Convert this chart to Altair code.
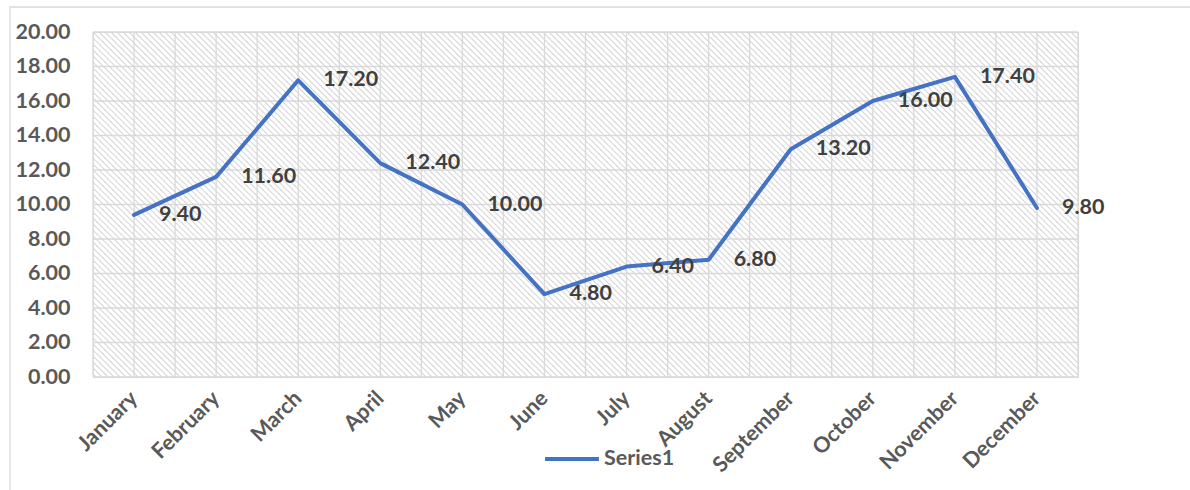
import json
import altair as alt
import pandas as pd

months = ["January", "February", "March", "April", "May", "June", "July",
          "August", "September", "October", "November", "December"]
values = [9.40, 11.60, 17.20, 12.40, 10.00, 4.80, 6.40, 6.80, 13.20, 16.00, 17.40, 9.80]
series_name = "Series1"
y_ticks = [0, 2, 4, 6, 8, 10, 12, 14, 16, 18, 20]

W, H = 985, 345
FONT = "Lato"
FS = 21.5
GRID = "#d9d9d9"

df = pd.DataFrame({
    "x": list(range(len(months))),
    "y": values,
    "series": series_name,
    "label": [f"{v:.2f}" for v in values],
})

xscale = alt.Scale(domain=[-0.5, 11.5], nice=False, zero=False)
yscale = alt.Scale(domain=[0, 20], nice=False)

X = alt.X("x:Q", scale=xscale, title=None,
          axis=alt.Axis(values=list(range(len(months))),
                        labelExpr=json.dumps(months) + "[datum.value]",
                        labelAngle=-45, labelAlign="right", labelBaseline="middle",
                        labelPadding=18, ticks=False, domain=False, grid=False,
                        labelFont=FONT, labelFontSize=FS, labelFontWeight="bold",
                        labelColor="#595959", labelOverlap=False))
Y = alt.Y("y:Q", scale=yscale, title=None,
          axis=alt.Axis(values=y_ticks, format=".2f", ticks=False, domain=False,
                        grid=False, labelPadding=23, labelFont=FONT, labelFontSize=FS,
                        labelFontWeight="bold", labelColor="#595959"))

px_per_x = W / 12.0
hatch = alt.Chart(alt.sequence(-60, 170, 1, as_="k")).transform_calculate(
    x=f"-0.5 + datum.k*6/{px_per_x}",
    x2=f"datum.x + {H}/{px_per_x}",
    y="20", y2="0",
).mark_rule(clip=True, color="#d6d6d6", strokeWidth=1.1).encode(
    x=X, x2="x2:Q", y=Y, y2="y2:Q")

vgrid = alt.Chart(alt.sequence(0, 25, 1, as_="k")).transform_calculate(
    x="-0.5 + datum.k*0.5", y="0", y2="20"
).mark_rule(color=GRID, strokeWidth=1.3).encode(x=X, y=Y, y2="y2:Q")

hgrid = alt.Chart(alt.sequence(0, 11, 1, as_="k")).transform_calculate(
    y="datum.k*2", x="-0.5", x2="11.5"
).mark_rule(color=GRID, strokeWidth=1.3).encode(x=X, x2="x2:Q", y=Y)

line = alt.Chart(df).mark_line(strokeWidth=4, strokeJoin="round", strokeCap="round").encode(
    x=X, y=Y,
    color=alt.Color("series:N", scale=alt.Scale(range=["#4472C4"]),
                    legend=alt.Legend(orient="none", legendX=450, legendY=398,
                                      title=None, symbolType="stroke",
                                      symbolStrokeWidth=4, symbolSize=2900,
                                      labelFont=FONT, labelFontSize=FS,
                                      labelFontWeight="bold", labelColor="#595959",
                                      labelOffset=3)))

labels = alt.Chart(df).mark_text(align="left", baseline="middle", dx=25,
                                 font=FONT, fontSize=FS, fontWeight="bold",
                                 color="#404040").encode(x=X, y=Y, text="label:N")

border = alt.Chart(alt.Data(values=[{}])).mark_rect(
    filled=False, stroke="#d9d9d9", strokeWidth=1.3, clip=False
).encode(x=alt.value(-83), x2=alt.value(1130), y=alt.value(-25), y2=alt.value(480))

chart = alt.layer(border, hatch, vgrid, hgrid, line, labels).properties(
    width=W, height=H,
    autosize=alt.AutoSizeParams(type="none"),
    padding={"left": 93, "top": 32, "right": 112, "bottom": 113},
).configure_view(stroke=None).configure(background="white")

chart.save("out.html", embed_options={"renderer": "svg", "actions": False})
